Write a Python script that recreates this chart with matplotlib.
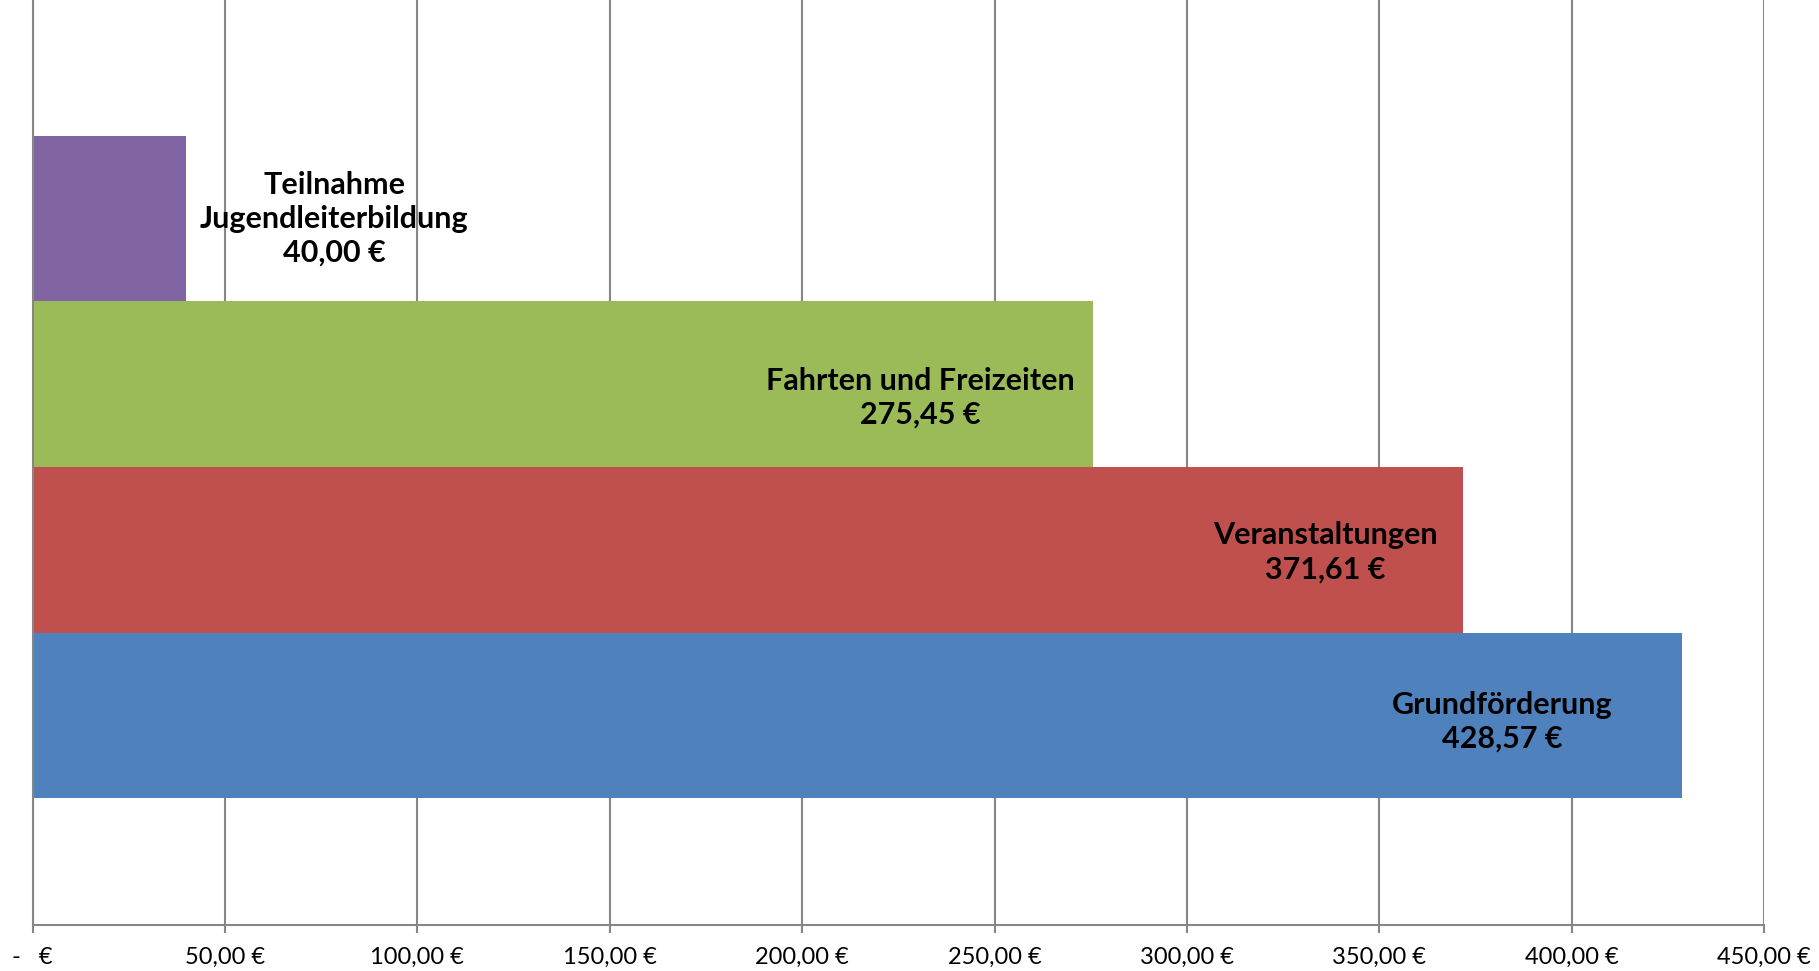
import matplotlib.pyplot as plt

# Fördermittel nach Bereich (von unten nach oben)
categories = ['Grundförderung', 'Veranstaltungen', 'Fahrten und Freizeiten',
              'Teilnahme\nJugendleiterbildung']
values = [428.57, 371.61, 275.45, 40.00]
colors = ['#4F81BD', '#C0504D', '#9BBB59', '#8064A2']
tick_values = [0, 50, 100, 150, 200, 250, 300, 350, 400, 450]
tick_labels = ['-   €', '50,00 €', '100,00 €', '150,00 €', '200,00 €',
               '250,00 €', '300,00 €', '350,00 €', '400,00 €', '450,00 €']

# label placement (Excel style data labels)
label_x = [381.9, 336.0, 230.6, 78.4]
label_dy = [-0.04, -0.015, -0.08, 0.0]

def fmt(v):
    return f'{v:,.2f} €'.replace(',', 'X').replace('.', ',').replace('X', '.')

plt.rcParams['font.family'] = ['Lato', 'DejaVu Sans']

fig = plt.figure(figsize=(18.19, 9.71), dpi=100)
ax = fig.add_axes([0.0179, 0.0474, 0.9520, 0.9526])

pos = range(1, len(values) + 1)
ax.barh(list(pos), values, height=1.0, color=colors, zorder=2)

for p, v, name, lx, dy in zip(pos, values, categories, label_x, label_dy):
    ax.text(lx, p + dy, f'{name}\n{fmt(v)}', ha='center', va='center',
            fontsize=22, fontweight='bold', linespacing=1.25, zorder=3)

ax.set_xlim(0, 450)
ax.set_ylim(-0.265, 5.32)
ax.set_xticks(tick_values)
ax.set_xticklabels(tick_labels, fontsize=17)
ax.set_yticks([])
ax.xaxis.grid(True, color='#868686', linewidth=1.5, zorder=0)
ax.tick_params(axis='x', length=6, width=1.5, color='#868686', pad=10)

for s in ['top', 'right']:
    ax.spines[s].set_visible(False)
ax.spines['bottom'].set_color('#868686')
ax.spines['bottom'].set_linewidth(1.5)
ax.spines['left'].set_color('#868686')
ax.spines['left'].set_linewidth(1.5)

fig.savefig('out.png', dpi=100)
